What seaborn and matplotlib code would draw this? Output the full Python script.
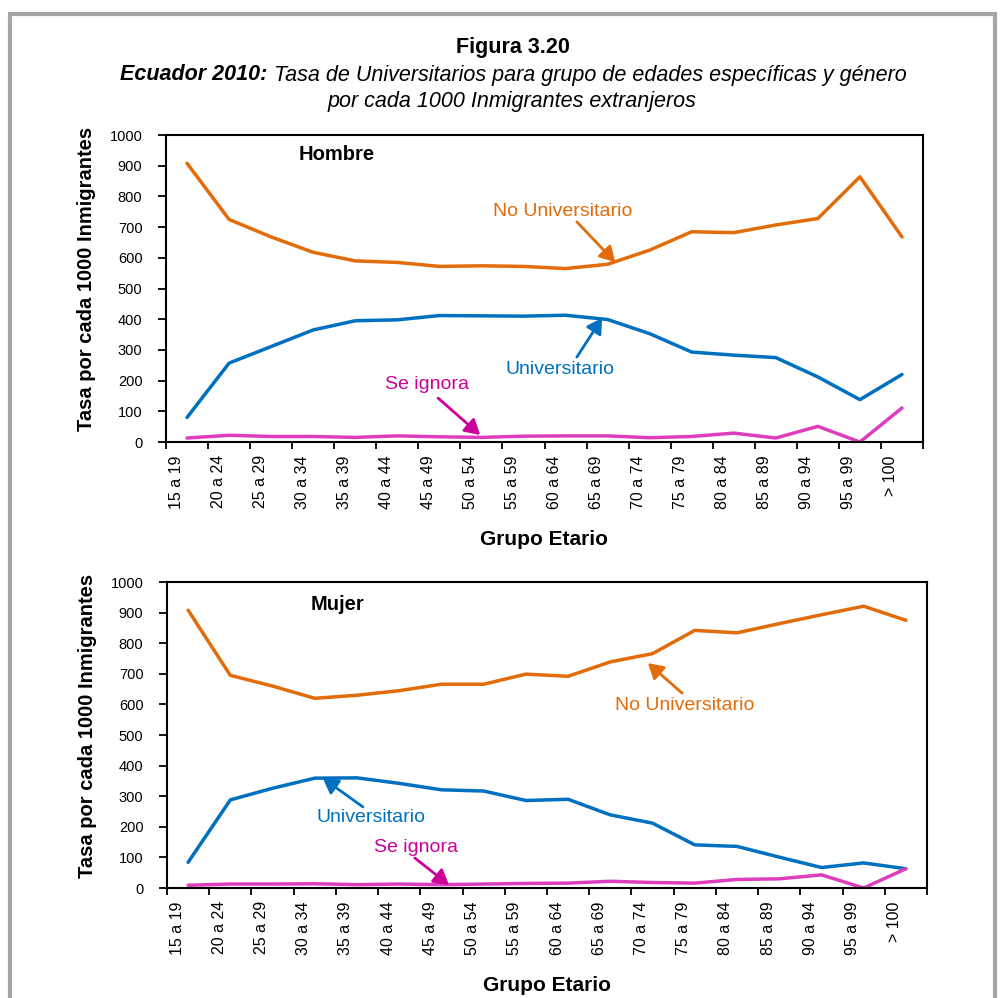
import numpy as np
import pandas as pd
import seaborn as sns
import matplotlib.pyplot as plt
from matplotlib.patches import Rectangle
from matplotlib.transforms import ScaledTranslation

# Data (rate per 1000 immigrants)
grupos = ['15 a 19', '20 a 24', '25 a 29', '30 a 34', '35 a 39', '40 a 44',
          '45 a 49', '50 a 54', '55 a 59', '60 a 64', '65 a 69', '70 a 74',
          '75 a 79', '80 a 84', '85 a 89', '90 a 94', '95 a 99', '> 100']

hombre_no_univ = [908, 725, 668, 618, 590, 585, 572, 574, 572, 565, 579, 625,
                  685, 682, 707, 728, 864, 668]
hombre_univ = [80, 257, 311, 365, 395, 398, 412, 411, 410, 413, 399, 353,
               293, 283, 275, 212, 138, 220]
hombre_ignora = [13, 22, 18, 18, 15, 20, 17, 15, 19, 20, 20, 14,
                 18, 29, 13, 51, 0, 111]

mujer_no_univ = [908, 695, 660, 620, 630, 645, 666, 666, 699, 692, 739, 766,
                 842, 834, 864, 893, 921, 875]
mujer_univ = [84, 288, 326, 359, 360, 342, 321, 317, 286, 290, 239, 212,
              141, 136, 101, 67, 82, 63]
mujer_ignora = [9, 13, 13, 14, 11, 13, 11, 13, 15, 16, 22, 18,
                16, 28, 30, 43, 0, 63]

series = ['No Universitario', 'Universitario', 'Se ignora']
colores = {'No Universitario': '#E36C0A', 'Universitario': '#0070C0',
           'Se ignora': '#DE3EBE'}
color_texto_ignora = '#CC0099'

sns.set_theme(style='white')
plt.rcParams['font.family'] = ['Liberation Sans', 'DejaVu Sans']
plt.rcParams['axes.edgecolor'] = 'black'
plt.rcParams['text.color'] = 'black'
plt.rcParams['axes.labelcolor'] = 'black'
plt.rcParams['xtick.color'] = 'black'
plt.rcParams['ytick.color'] = 'black'

fig = plt.figure(figsize=(10, 9.98), dpi=100)

# outer gray frame
fig.add_artist(Rectangle((0.010, -0.1), 0.985, 1.086, transform=fig.transFigure,
                         fill=False, edgecolor='#A6A6A6', lw=3, clip_on=False))

# titles
fig.text(0.513, 1 - 47 / 998, 'Figura 3.20', ha='center', va='center',
         fontsize=15.5, fontweight='bold')
t1 = fig.text(0.5, 1 - 75 / 998, 'Ecuador 2010:', ha='left', va='center',
              fontsize=15.5, fontweight='bold', style='italic')
t2 = fig.text(0.5, 1 - 75 / 998,
              ' Tasa de Universitarios para grupo de edades específicas y género',
              ha='left', va='center', fontsize=15.5, style='italic')
fig.text(0.512, 1 - 101 / 998, 'por cada 1000 Inmigrantes extranjeros',
         ha='center', va='center', fontsize=15.5, style='italic')
r = fig.canvas.get_renderer()
w1 = t1.get_window_extent(r).width / fig.bbox.width
w2 = t2.get_window_extent(r).width / fig.bbox.width
x0 = 0.5135 - (w1 + w2) / 2
t1.set_x(x0)
t2.set_x(x0 + w1)


def panel(rect, valores, etiqueta, notas):
    ax = fig.add_axes(rect)
    pos = np.arange(len(grupos))
    df = pd.DataFrame({'pos': np.tile(pos, 3),
                       'tasa': np.concatenate(valores),
                       'serie': np.repeat(series, len(grupos))})
    sns.lineplot(data=df, x='pos', y='tasa', hue='serie', hue_order=series,
                 palette=colores, lw=2.5, legend=False, ax=ax,
                 solid_joinstyle='round', solid_capstyle='round')
    ax.set_xlim(-0.5, len(grupos) - 0.5)
    ax.set_ylim(0, 1000)
    ax.set_yticks(range(0, 1001, 100))
    ax.set_xticks(pos)
    ax.set_xticklabels(grupos, rotation=90, va='top', ha='center')
    ax.set_xticks(np.arange(-0.5, len(grupos)), minor=True)
    ax.tick_params(axis='x', which='major', length=0, pad=9.5, labelsize=11.5)
    ax.tick_params(axis='x', which='minor', length=5, width=1.3, direction='out',
                   bottom=True)
    ax.tick_params(axis='y', length=6, width=1.3, direction='out', left=True,
                   pad=11, labelsize=10.5)
    off = ScaledTranslation(-11 / 100, 0, fig.dpi_scale_trans)
    for lab in ax.get_xticklabels():
        lab.set_transform(lab.get_transform() + off)
    for sp in ax.spines.values():
        sp.set_linewidth(1.5)
        sp.set_color('black')
    ax.set_ylabel('Tasa por cada 1000 Inmigrantes', fontsize=14.5,
                  fontweight='bold')
    ax.yaxis.set_label_coords(-0.0925, 0.53)
    ax.set_xlabel('Grupo Etario', fontsize=15, fontweight='bold', va='center')
    ax.xaxis.set_label_coords(0.5, -0.318)
    ax.text(notas['titulo'][0], notas['titulo'][1], etiqueta, fontsize=14.5,
            fontweight='bold', ha='center', va='center')
    for serie, (tx, ty, ax0, ay0, ax1, ay1) in notas['series'].items():
        c = color_texto_ignora if serie == 'Se ignora' else colores[serie]
        ax.text(tx, ty, serie, color=c, fontsize=14, ha='center', va='center')
        ax.annotate('', xy=(ax1, ay1), xytext=(ax0, ay0),
                    arrowprops=dict(arrowstyle='-|>,head_length=0.6,head_width=0.35',
                                    color=c, lw=2, mutation_scale=15,
                                    shrinkA=0, shrinkB=0))
    return ax


panel([0.166, 0.5571, 0.757, 0.3076],
      [hombre_no_univ, hombre_univ, hombre_ignora], 'Hombre',
      {'titulo': (3.57, 935),
       'series': {'No Universitario': (8.94, 752, 9.27, 717, 10.18, 586),
                  'Universitario': (8.87, 235, 9.27, 277, 9.87, 404),
                  'Se ignora': (5.71, 186, 5.97, 143, 6.97, 23)}})

panel([0.167, 0.1102, 0.760, 0.3066],
      [mujer_no_univ, mujer_univ, mujer_ignora], 'Mujer',
      {'titulo': (3.53, 928),
       'series': {'No Universitario': (11.75, 595, 11.70, 637, 10.89, 735),
                  'Universitario': (4.33, 229, 4.14, 265, 3.19, 359),
                  'Se ignora': (5.40, 134, 5.37, 98, 6.18, 10)}})

fig.savefig('out.png', dpi=100, facecolor='white')
